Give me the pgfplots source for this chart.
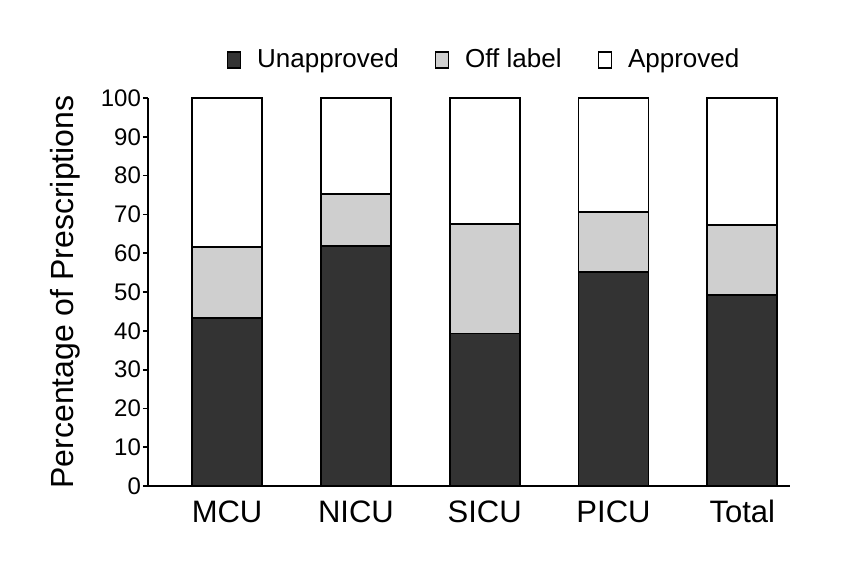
\documentclass[border=0pt]{standalone}
\usepackage{pgfplots}
\pgfplotsset{compat=1.18}
\usepackage{fontspec}
\setmainfont{Liberation Sans}
\definecolor{unap}{HTML}{333333}
\definecolor{offl}{HTML}{CFCFCF}
\begin{document}
\begin{tikzpicture}
\path[use as bounding box] (-74pt,-43.5pt) rectangle (351.5pt,243pt);
\begin{axis}[
  at={(0,0)}, anchor=south west,
  scale only axis,
  width=321pt, height=194pt,
  ybar stacked,
  bar width=35pt,
  xmin=-0.614, xmax=4.37,
  ymin=0, ymax=100,
  axis x line=bottom, axis y line=left,
  axis line style={line width=0.9pt,-},
  xtick={0,1,2,3,4},
  xticklabels={MCU,NICU,SICU,PICU,Total},
  x tick style={draw=none},
  ytick={0,10,...,100},
  y tick style={line width=0.9pt,black},
  tick align=outside,
  major tick length=2.5pt,
  /pgf/number format/assume math mode=true,
  yticklabel style={font=\fontsize{12}{13}\selectfont, xshift=2.5pt},
  xticklabel style={font=\fontsize{15.5}{17}\selectfont, anchor=base, yshift=-15.5pt},
  ylabel={Percentage of Prescriptions},
  every axis y label/.style={at={(-41.5pt,0.5)}, rotate=90, anchor=center, font=\fontsize{16}{18}\selectfont},
  legend columns=3,
  legend style={at={(0.525,1)}, anchor=center, yshift=19pt, draw=none,
    font=\fontsize{13}{15}\selectfont,
    /tikz/every odd column/.append style={column sep=6pt},
    /tikz/every even column/.append style={column sep=16pt}},
  legend image code/.code={\draw[#1,draw=black,line width=0.7pt] (0pt,-4pt) rectangle (6.5pt,4pt);},
]
\addplot[fill=unap, draw=black, line width=0.9pt] coordinates {(0,43.4) (1,61.8) (2,39.3) (3,55.2) (4,49.3)};
\addplot[fill=offl, draw=black, line width=0.9pt] coordinates {(0,18.2) (1,13.5) (2,28.3) (3,15.5) (4,17.9)};
\addplot[fill=white, draw=black, line width=0.9pt] coordinates {(0,38.4) (1,24.7) (2,32.4) (3,29.3) (4,32.8)};
\legend{Unapproved, Off label, Approved}
\end{axis}
\end{tikzpicture}
\end{document}
